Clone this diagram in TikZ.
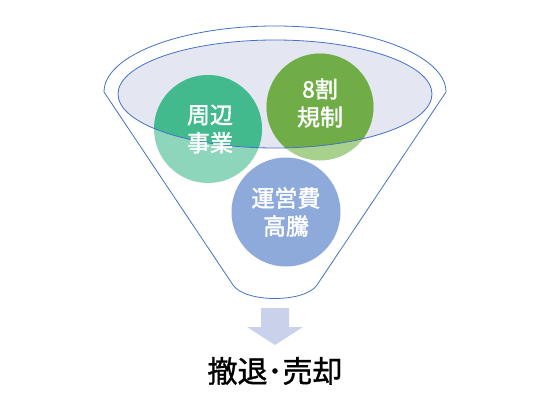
\documentclass[tikz,border=0pt]{standalone}
\usepackage{fontspec}
\newfontfamily\jpa[FakeBold=1.6]{Noto Sans CJK JP}
\newfontfamily\jpb[FakeBold=1.2]{Noto Sans CJK JP}
\definecolor{funnelblue}{HTML}{4472C4}
\definecolor{lav}{HTML}{E4E6F2}
\definecolor{tealdark}{HTML}{43BA8D}
\definecolor{teallight}{HTML}{8DD6BB}
\definecolor{grndark}{HTML}{70AD47}
\definecolor{grnlight}{HTML}{A9D18E}
\definecolor{bluelight}{HTML}{8EAADB}
\definecolor{arrowlav}{HTML}{C9D1EB}
\begin{document}
\begin{tikzpicture}[x=1pt,y=-1pt,
  funnelline/.style={draw=funnelblue,line width=0.8pt},
  bubbletext/.style={text=white,font=\jpa\fontsize{23}{28}\selectfont,align=center,inner sep=0pt},
  resulttext/.style={text=black,font=\jpb\fontsize{30}{34}\selectfont,inner sep=0pt}]
\useasboundingbox (0,0) rectangle (533,404);
% funnel outline
\coordinate (ol) at (104,92);
\coordinate (or) at (446,92);
\coordinate (br) at (317,285);
\coordinate (bl) at (233,285);
\filldraw[funnelline,fill=white] (ol) arc[start angle=180,end angle=360,x radius=171,y radius=66]
  -- (br) .. controls (305,303) and (245,303) .. (bl) -- cycle;
% inner ellipse fill
\coordinate (ie) at (275,94);
\fill[lav] (ie) ellipse[x radius=157,y radius=54];
% circles (light parts)
\coordinate (c1) at (208,129);
\coordinate (c2) at (320,107);
\coordinate (c3) at (286,212);
\fill[teallight] (c1) circle (54);
\fill[grnlight] (c2) circle (53.5);
\fill[bluelight] (c3) circle (54.5);
% darker parts inside the ellipse
\begin{scope}
  \clip (ie) ellipse[x radius=157,y radius=54];
  \fill[tealdark] (c1) circle (54);
  \fill[grndark] (c2) circle (53.5);
\end{scope}
\draw[funnelline] (ie) ellipse[x radius=157,y radius=54];
% texts
\node[bubbletext] (t1) at (210,129) {周辺\\事業};
\node[bubbletext] (t2) at (320,103) {8割\\規制};
\node[bubbletext] (t3) at (286,212) {運営費\\高騰};
% arrow
\fill[arrowlav] (261,308) -- (289,308) -- (289,327) -- (303,327) -- (275,345) -- (247,327) -- (261,327) -- cycle;
\node[resulttext] (res) at (275,371) {撤退･売却};
\end{tikzpicture}
\end{document}
